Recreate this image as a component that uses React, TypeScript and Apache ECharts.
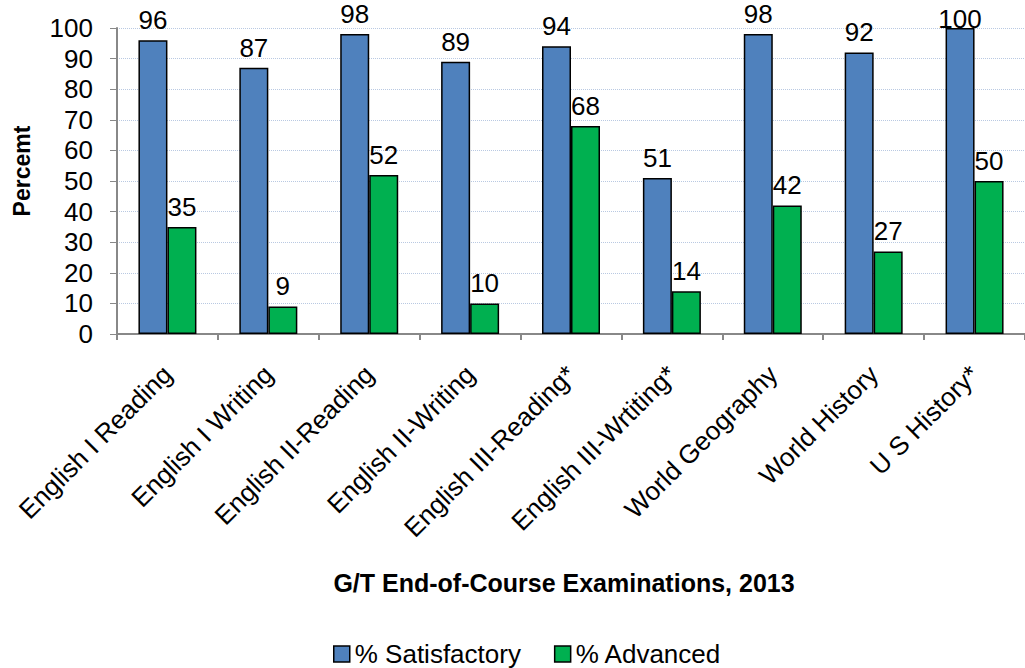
import React, { useEffect, useRef } from "react";
import * as echarts from "echarts";

const categories = [
  "English I Reading",
  "English I Writing",
  "English II-Reading",
  "English II-Writing",
  "English III-Reading*",
  "English III-Wrtiting*",
  "World Geography",
  "World History",
  "U S History*",
];
const satisfactory = [96, 87, 98, 89, 94, 51, 98, 92, 100];
const advanced = [35, 9, 52, 10, 68, 14, 42, 27, 50];
const yTicks = { min: 0, max: 100, interval: 10 };
const xTitle = "G/T End-of-Course Examinations, 2013";
const yTitle = "Percemt";

const FONT = "Liberation Sans, Arial, sans-serif";

export default function App() {
  const ref = useRef<HTMLDivElement>(null);
  useEffect(() => {
    if (!ref.current) return;
    const chart = echarts.init(ref.current, undefined, { renderer: "svg" });
    const labelStyle = {
      show: true,
      position: "top" as const,
      distance: 7,
      color: "#000",
      fontSize: 26,
      fontFamily: FONT,
    };
    // labels at the very top are pushed down into the plot, as in the source
    const withTopFit = (arr: number[]) =>
      arr.map((v) => (v >= yTicks.max ? { value: v, label: { offset: [0, 11] } } : v));
    chart.setOption({
      animation: false,
      backgroundColor: "#fff",
      textStyle: { fontFamily: FONT },
      grid: { left: 117, right: -10, top: 28, bottom: 334, containLabel: false },
      graphic: [
        {
          type: "text",
          x: 564,
          y: 583,
          style: {
            text: xTitle,
            fontSize: 25,
            fontWeight: "bold",
            fill: "#000",
            fontFamily: FONT,
            textAlign: "center",
            textVerticalAlign: "middle",
          },
        },
        {
          type: "text",
          x: 22,
          y: 171,
          rotation: Math.PI / 2,
          style: {
            text: yTitle,
            fontSize: 23,
            fontWeight: "bold",
            fill: "#000",
            fontFamily: FONT,
            textAlign: "center",
            textVerticalAlign: "middle",
          },
        },
      ],
      legend: {
        left: 333,
        top: 641,
        padding: 0,
        itemWidth: 16,
        itemHeight: 16,
        itemGap: 33,
        icon: "rect",
        textStyle: { fontSize: 26, lineHeight: 26, color: "#000", fontFamily: FONT },
        data: [
          { name: "% Satisfactory", itemStyle: { borderColor: "#000", borderWidth: 1.5 } },
          { name: "% Advanced", itemStyle: { borderColor: "#000", borderWidth: 1.5 } },
        ],
      },
      xAxis: {
        type: "category",
        data: categories,
        axisLine: { lineStyle: { color: "#888", width: 2 } },
        axisTick: { show: true, length: 6, lineStyle: { color: "#888", width: 2 } },
        axisLabel: {
          rotate: 45,
          interval: 0,
          margin: 36,
          fontSize: 26,
          color: "#000",
          fontFamily: FONT,
        },
      },
      yAxis: {
        type: "value",
        min: yTicks.min,
        max: yTicks.max,
        interval: yTicks.interval,
        axisLine: { show: true, lineStyle: { color: "#888", width: 2 } },
        axisTick: { show: true, length: 7, inside: false, lineStyle: { color: "#888", width: 1 } },
        axisLabel: { fontSize: 26, color: "#000", margin: 24, fontFamily: FONT },
        splitLine: { show: true, lineStyle: { color: "#b9c9e2", type: "dotted", width: 1 } },
      },
      series: [
        {
          name: "% Satisfactory",
          type: "bar",
          data: withTopFit(satisfactory),
          barWidth: 29,
          barGap: "0%",
          itemStyle: { color: "#4f81bd", borderColor: "#000", borderWidth: 1.5 },
          label: labelStyle,
        },
        {
          name: "% Advanced",
          type: "bar",
          data: withTopFit(advanced),
          barWidth: 29,
          barGap: "0%",
          itemStyle: { color: "#00b050", borderColor: "#000", borderWidth: 1.5 },
          label: labelStyle,
        },
      ],
    });
    return () => chart.dispose();
  }, []);
  return <div ref={ref} style={{ width: 1025, height: 668, position: "absolute", left: 0, top: 0 }} />;
}
